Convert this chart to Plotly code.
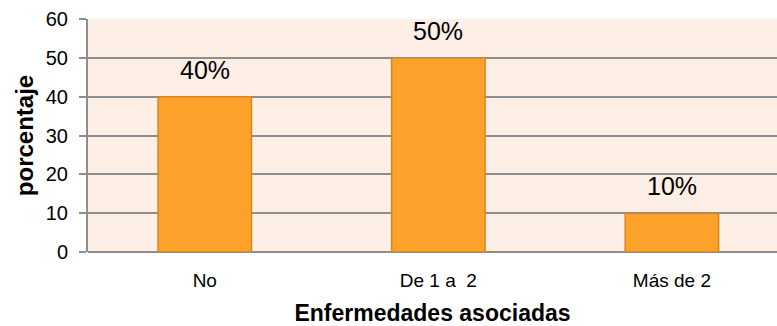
import plotly.graph_objects as go

# Enfermedades asociadas: porcentaje de pacientes por categoría
categorias = ["No", "De 1 a  2", "Más de 2"]
porcentajes = [40, 50, 10]
etiquetas = ["40%", "50%", "10%"]
ticks_y = [0, 10, 20, 30, 40, 50, 60]

FUENTE = "Liberation Sans, Arial, sans-serif"

fig = go.Figure()
fig.add_trace(go.Bar(
    x=categorias,
    y=porcentajes,
    width=0.4,
    marker=dict(color="#FCA12A", line=dict(color="#D9841E", width=1.5)),
    hoverinfo="skip",
))

for cat, val, lab in zip(categorias, porcentajes, etiquetas):
    fig.add_annotation(
        x=cat, y=val, text=lab, showarrow=False,
        yanchor="bottom", yshift=11,
        font=dict(family=FUENTE, size=25, color="#000000"),
    )

fig.update_layout(
    width=777, height=326,
    margin=dict(l=88, r=0, t=19, b=74),
    paper_bgcolor="#FFFFFF",
    plot_bgcolor="#FDEFE6",
    showlegend=False,
    font=dict(family=FUENTE, color="#000000"),
)

fig.update_xaxes(
    type="category",
    range=[-0.5, 2.45],
    showgrid=False,
    showline=False,
    ticks="",
    tickfont=dict(size=19),
    ticklabelstandoff=15,
    title=dict(text="<b>Enfermedades asociadas</b>", font=dict(size=23), standoff=17),
)

fig.update_yaxes(
    range=[0, 60],
    tickvals=ticks_y,
    showgrid=True,
    gridcolor="#8E8E8E",
    gridwidth=2,
    zeroline=True,
    zerolinecolor="#8E8E8E",
    zerolinewidth=2,
    showline=True,
    linecolor="#8E8E8E",
    linewidth=2,
    ticks="outside",
    ticklen=7,
    tickwidth=2,
    tickcolor="#8E8E8E",
    tickfont=dict(size=20),
    ticklabelstandoff=7,
    title=dict(text="<b>porcentaje</b>", font=dict(size=24), standoff=5),
)

fig.write_html("out.html")
